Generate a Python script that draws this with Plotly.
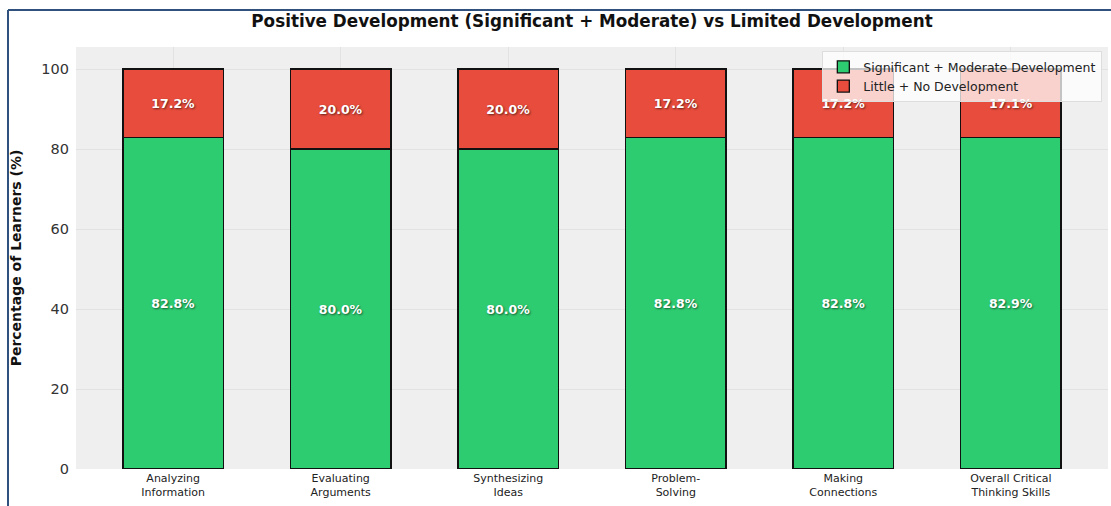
import plotly.graph_objects as go

categories = [
    "Analyzing<br>Information",
    "Evaluating<br>Arguments",
    "Synthesizing<br>Ideas",
    "Problem-<br>Solving",
    "Making<br>Connections",
    "Overall Critical<br>Thinking Skills",
]
positive = [82.8, 80.0, 80.0, 82.8, 82.8, 82.9]
limited = [17.2, 20.0, 20.0, 17.2, 17.2, 17.1]
y_ticks = [0, 20, 40, 60, 80, 100]

GREEN = "#2ecc71"
RED = "#e74c3c"
W, H = 1111, 506
L, R, T, B = 76, 3, 47, 37

x = list(range(len(categories)))
label_font = dict(family="DejaVu Sans", size=12.5, color="white", weight="bold",
                  shadow="1px 1px 2px rgba(0,0,0,0.55)")

fig = go.Figure()
fig.add_trace(go.Bar(
    x=x, y=positive, name="Significant + Moderate Development",
    marker=dict(color=GREEN, line=dict(color="#111111", width=1.3)),
    text=[f"{v:.1f}%" for v in positive], textposition="inside",
    insidetextanchor="middle", textfont=label_font, width=0.6,
))
fig.add_trace(go.Bar(
    x=x, y=limited, name="Little + No Development",
    marker=dict(color=RED, line=dict(color="#111111", width=1.3)),
    text=[f"{v:.1f}%" for v in limited], textposition="inside",
    insidetextanchor="middle", textfont=label_font, width=0.6,
))

pw = W - L - R
ph = H - T - B


def px_x(p):
    return (p - L) / pw


def px_y(p):
    return (H - B - p) / ph


# page frame around the figure
frame = "#30507e"
fig.add_shape(type="line", xref="paper", yref="paper",
              x0=px_x(8), x1=px_x(1111), y0=px_y(10), y1=px_y(10),
              line=dict(color=frame, width=2))
fig.add_shape(type="line", xref="paper", yref="paper",
              x0=px_x(8), x1=px_x(8), y0=px_y(10), y1=px_y(506),
              line=dict(color=frame, width=2))

fig.update_layout(
    width=W, height=H,
    barmode="stack",
    margin=dict(l=L, r=R, t=T, b=B),
    paper_bgcolor="white",
    plot_bgcolor="#efefef",
    font=dict(family="DejaVu Sans", color="#333333"),
    title=dict(
        text="Positive Development (Significant + Moderate) vs Limited Development",
        x=0.5, xref="paper", xanchor="center",
        y=1 - 21 / H, yanchor="middle",
        font=dict(family="DejaVu Sans", size=16.8, color="#111111", weight="bold"),
    ),
    legend=dict(
        x=0.9945, xanchor="right", y=0.99, yanchor="top",
        bgcolor="rgba(255,255,255,0.75)", bordercolor="#dddddd", borderwidth=1,
        font=dict(family="DejaVu Sans", size=12.5, color="#222222"),
        tracegroupgap=0, itemwidth=30, traceorder="normal",
    ),
    uniformtext=dict(minsize=8, mode="show"),
)
fig.update_xaxes(
    range=[-0.58, 5.58], tickvals=x, ticktext=categories,
    tickfont=dict(family="DejaVu Sans", size=11, color="#222222"),
    showgrid=True, gridcolor="#e2e2e2", gridwidth=1,
    ticks="", zeroline=False, showline=False, ticklabelstandoff=1,
)
fig.update_yaxes(
    range=[0, 105.5], tickvals=y_ticks,
    tickfont=dict(family="DejaVu Sans", size=14.5, color="#333333"),
    showgrid=True, gridcolor="#e2e2e2", gridwidth=1,
    zeroline=False, showline=False, ticks="", ticklabelstandoff=6,
    title=dict(text="Percentage of Learners (%)", standoff=16,
               font=dict(family="DejaVu Sans", size=14, color="#111111", weight="bold")),
)

fig.write_html("out.html")
